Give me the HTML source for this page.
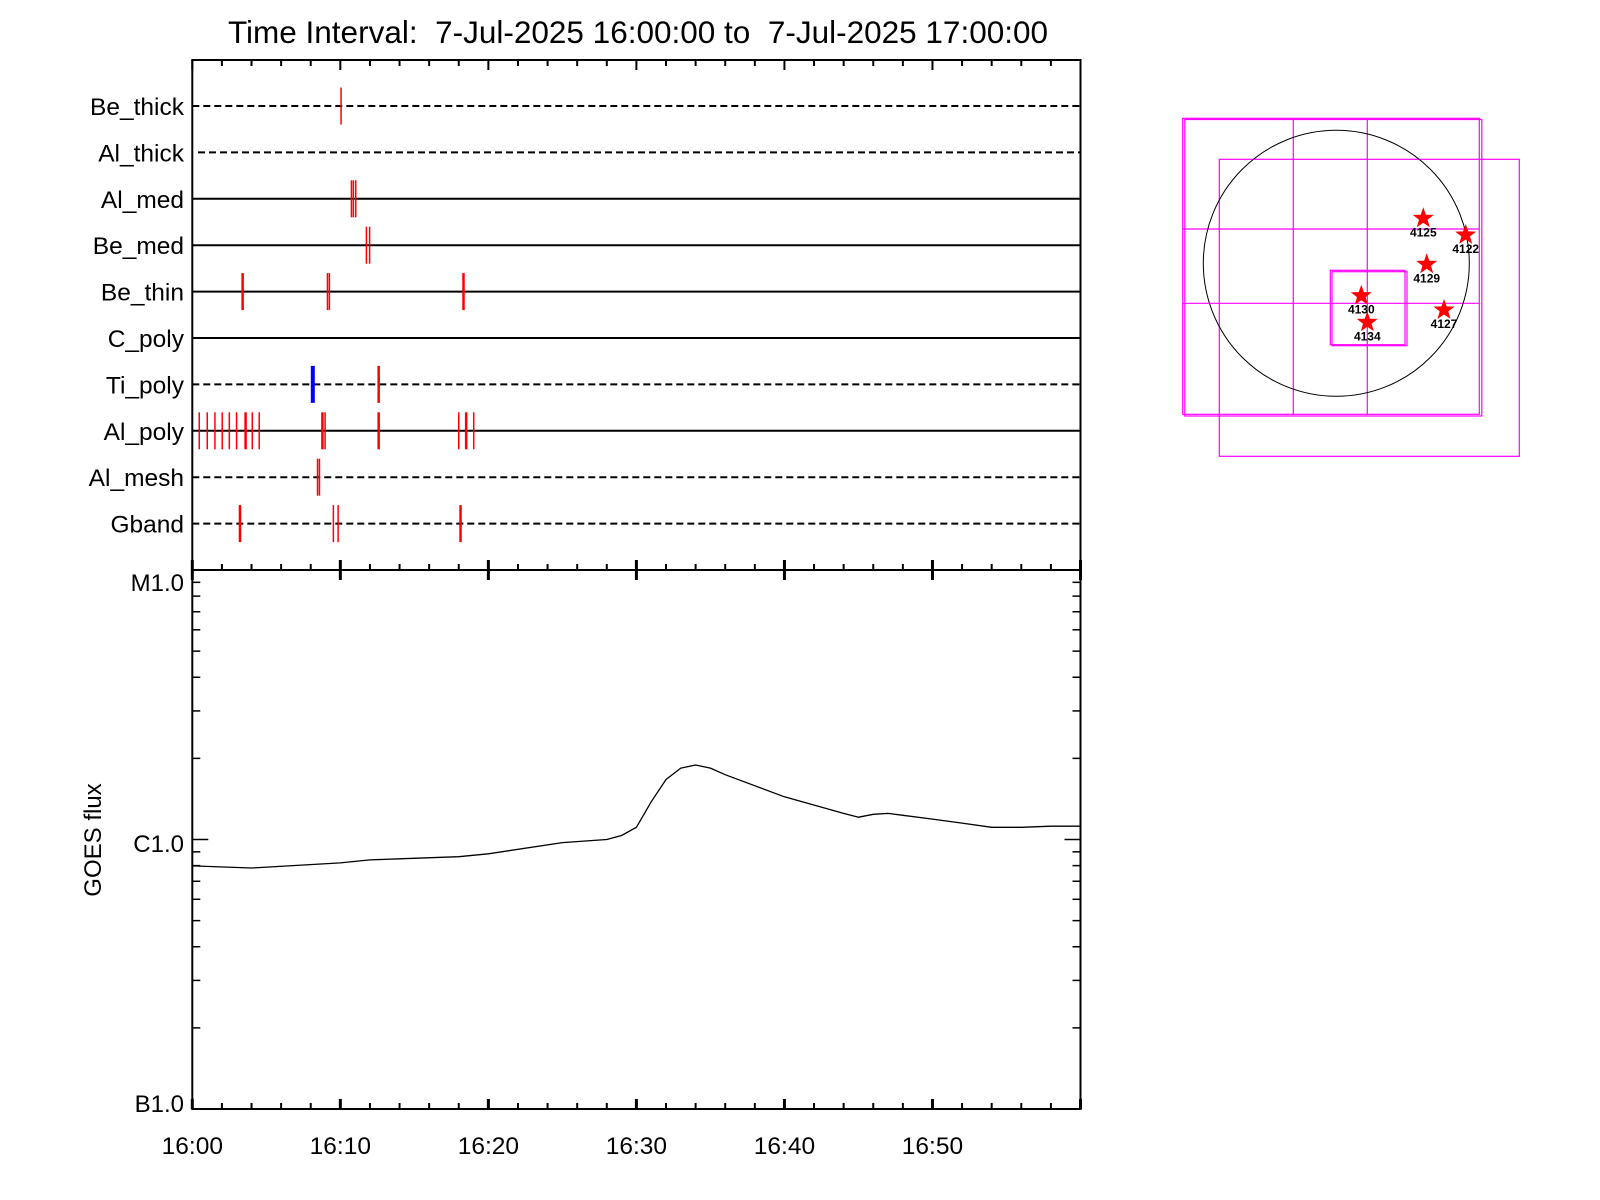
<!DOCTYPE html>
<html><head><meta charset="utf-8"><style>
body{margin:0;background:#fff;width:1600px;height:1200px;overflow:hidden}
svg{display:block;font-family:"Liberation Sans",sans-serif}
</style></head><body>
<svg id="chart" width="1600" height="1200" xmlns="http://www.w3.org/2000/svg">
<text x="638" y="43" font-size="31.5" text-anchor="middle" style="white-space:pre">Time Interval:  7-Jul-2025 16:00:00 to  7-Jul-2025 17:00:00</text>
<g id="topPanel"></g>
<g id="botPanel"></g>
<g id="mapPanel"></g>
</svg>
<script>
const rowNames=["Be_thick","Al_thick","Al_med","Be_med","Be_thin","C_poly","Ti_poly","Al_poly","Al_mesh","Gband"];
const rowDashed=[true,true,false,false,false,false,true,false,true,true];
const evRow=[0,2,2,2,3,3,4,4,4,4,6,6,7,7,7,7,7,7,7,7,7,7,7,7,7,7,7,8,8,9,9,9,9];
const evMin=[10.05,10.75,10.88,11.04,11.76,11.98,3.40,9.13,9.26,18.32,8.14,12.59,0.47,1.01,1.53,2.02,2.5,2.99,3.6,4.05,4.52,8.79,8.97,12.59,18.0,18.5,19.01,8.46,8.59,3.22,9.53,9.85,18.12];
const evThick=[0,0,0,0,0,0,1,0,0,1,2,1,0,0,0,0,0,0,1,0,0,1,0,1,0,1,0,0,0,1,0,0,1];
const goesMin=[0,4,10,12,14,18,20,25,28,29,30,31,32,33,34,35,36,40,44,45,46,47,48,50,52,54,56,58,60];
const goesFlux=[7.98e-7,7.84e-7,8.19e-7,8.40e-7,8.48e-7,8.63e-7,8.85e-7,9.74e-7,1.0e-6,1.035e-6,1.11e-6,1.38e-6,1.67e-6,1.84e-6,1.89e-6,1.84e-6,1.74e-6,1.44e-6,1.25e-6,1.21e-6,1.24e-6,1.25e-6,1.23e-6,1.19e-6,1.15e-6,1.11e-6,1.11e-6,1.12e-6,1.12e-6];
const xTickLabels=["16:00","16:10","16:20","16:30","16:40","16:50"];
const yTickLabels=["B1.0","C1.0","M1.0"];
const arNames=["4125","4122","4129","4130","4134","4127"];
const arX=[1423.3,1465.7,1426.7,1361.3,1367.3,1444];
const arY=[218.3,235,264.3,295.7,322.3,310];

const NS="http://www.w3.org/2000/svg";
function mk(p,t,a,txt){const e=document.createElementNS(NS,t);for(const k in a)e.setAttribute(k,a[k]);if(txt!==undefined)e.textContent=txt;p.appendChild(e);return e;}
const X0=192.3,X1=1080.5,PT=60,PM=570,PB=1109;
const xs=m=>X0+(X1-X0)*m/60;
const ys=f=>PB-(Math.log10(f)+7)*(PB-PM)/2;
const rowY=i=>106+46.4*i;
const gTop=document.getElementById('topPanel'),gBot=document.getElementById('botPanel'),gMap=document.getElementById('mapPanel');

let fr=mk(gTop,'rect',{x:X0,y:PT,width:X1-X0,height:PM-PT,fill:'none',stroke:'#000','stroke-width':2});


for(let m=0;m<=60;m+=2){const maj=m%10===0;
 let t=mk(gTop,'line',{x1:xs(m),x2:xs(m),y1:PT,y2:PT+(maj?10:6),stroke:'#000','stroke-width':2});
 
 
 let t2=mk(gTop,'line',{x1:xs(m),x2:xs(m),y1:PM-(maj?10:6),y2:PM+(maj?10:0),stroke:'#000','stroke-width':maj?3:2});
 
 }
rowNames.forEach((n,i)=>{const y=rowY(i);
 let l=mk(gTop,'line',{x1:i===1?198:X0,x2:X1,y1:y,y2:y,stroke:'#000','stroke-width':2});
 if(rowDashed[i])l.setAttribute('stroke-dasharray','7,4');
 
 
 let t=mk(gTop,'text',{x:184,y:y+9,'font-size':24.5,'text-anchor':'end'},n);
 
 });
evMin.forEach((m,i)=>{const y=rowY(evRow[i]);const blue=evThick[i]===2;
 let l=mk(gTop,'line',{x1:xs(m),x2:xs(m),y1:y-18.5,y2:y+18.5,stroke:blue?'#0000ff':'#ff0000','stroke-width':blue?4:(evThick[i]?2.5:1.5)});
 
 });

let bf=mk(gBot,'rect',{x:X0,y:PM,width:X1-X0,height:PB-PM,fill:'none',stroke:'#000','stroke-width':2});


for(let m=0;m<=60;m+=2){const maj=m%10===0;
 let t=mk(gBot,'line',{x1:xs(m),x2:xs(m),y1:PB,y2:PB-(maj?10:6),stroke:'#000','stroke-width':maj?3:2});
 
 }
xTickLabels.forEach((s,i)=>{let t=mk(gBot,'text',{x:xs(i*10),y:1154,'font-size':24.5,'text-anchor':'middle'},s);
 
 });
for(let d=-7;d<-5;d++)for(let k=1;k<10;k++){const f=k*Math.pow(10,d);const y=ys(f);const L=k===1?16:8;
 [[X0,X0+L],[X1,X1-L]].forEach(p=>{let t=mk(gBot,'line',{x1:p[0],x2:p[1],y1:y,y2:y,stroke:'#000','stroke-width':1.5});
 
 });}
const yLabY=[1112,852,591];
yTickLabels.forEach((s,i)=>{let t=mk(gBot,'text',{x:184,y:yLabY[i],'font-size':24,'text-anchor':'end'},s);
 
 });
let yt=mk(gBot,'text',{x:0,y:0,'font-size':24,'text-anchor':'middle',transform:'translate(101,840) rotate(-90)'},'GOES flux');


let pts=goesMin.map((m,i)=>xs(m).toFixed(1)+','+ys(goesFlux[i]).toFixed(1)).join(' ');
let gl=mk(gBot,'polyline',{points:pts,fill:'none',stroke:'#000','stroke-width':1.3,'stroke-linejoin':'round'});



const mg='#ff00ff';
function mrect(x,y,w,h){return mk(gMap,'rect',{x:x,y:y,width:w,height:h,fill:'none',stroke:mg,'stroke-width':1.2});}
[[1182.7,118.3,296.6,296],[1184.8,119.5,297,296.5],[1219.3,159.3,300,297],[1330.3,270.3,74.7,74.4],[1332,271.7,75,74]].forEach(a=>{
 let r=mrect(a[0],a[1],a[2],a[3]);
 
 });
[[1293.3,118.3,1293.3,414.3],[1367.3,118.3,1367.3,414.3],[1182.7,229,1479.3,229],[1182.7,303.3,1479.3,303.3]].forEach(a=>{
 let l=mk(gMap,'line',{x1:a[0],y1:a[1],x2:a[2],y2:a[3],stroke:mg,'stroke-width':1.2});
 
 });
let c=mk(gMap,'circle',{cx:1336.3,cy:263.3,r:133,fill:'none',stroke:'#000','stroke-width':1});


arNames.forEach((n,i)=>{let p=[];for(let k=0;k<10;k++){const r=k%2?4.5:11,a=-Math.PI/2+k*Math.PI/5;p.push((arX[i]+r*Math.cos(a)).toFixed(1)+','+(arY[i]+r*Math.sin(a)).toFixed(1));}
 let s=mk(gMap,'polygon',{points:p.join(' '),fill:'#ff0000'});
 
 
 let t=mk(gMap,'text',{x:arX[i],y:arY[i]+18,'font-size':12,'font-weight':'bold','text-anchor':'middle'},n);
 
 });
</script>
</body></html>
